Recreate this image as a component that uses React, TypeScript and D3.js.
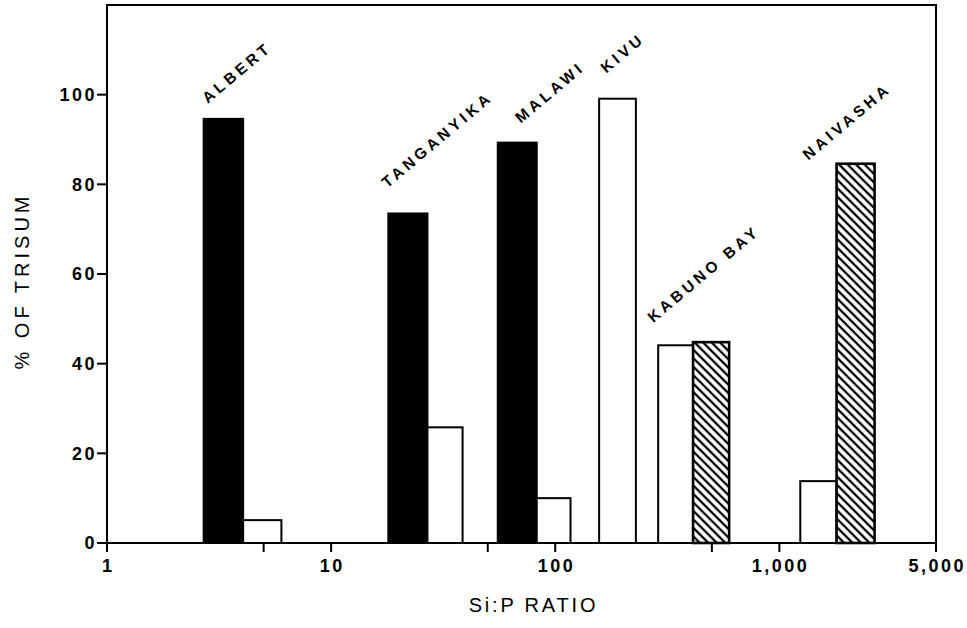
import * as d3 from "d3";

// Si:P ratio bins per lake (histogram-like bars on a log axis)
const barLakes = ["ALBERT", "ALBERT", "TANGANYIKA", "TANGANYIKA", "MALAWI", "MALAWI", "KIVU", "KABUNO BAY", "KABUNO BAY", "NAIVASHA", "NAIVASHA"];
const barFrom = [2.7, 4.05, 18, 26.9, 55.4, 82.7, 157, 288, 412, 1240, 1800];
const barTo = [4.05, 6.0, 26.9, 38.6, 82.7, 117, 229, 412, 597, 1800, 2660];
const barValues = [94.6, 5.1, 73.5, 25.8, 89.3, 10.0, 99.1, 44.1, 44.8, 13.8, 84.6];
const barKinds = ["solid", "open", "solid", "open", "solid", "open", "open", "open", "hatched", "open", "hatched"];

const lakes = ["ALBERT", "TANGANYIKA", "MALAWI", "KIVU", "KABUNO BAY", "NAIVASHA"];

const xTicks = [1, 5, 10, 50, 100, 500, 1000, 5000];
const xTickLabels = ["1", "", "10", "", "100", "", "1,000", "5,000"];
const yTicks = [0, 20, 40, 60, 80, 100];

// layout only: pixel nudges for the rotated lake labels
const labelNudge: Record<string, [number, number]> = {
    "ALBERT": [4, -15],
    "TANGANYIKA": [-1, -25],
    "MALAWI": [23, -19],
    "KIVU": [7, -25],
    "KABUNO BAY": [-5, -19],
    "NAIVASHA": [8, -3],
};

const WIDTH = 967;
const HEIGHT = 628;
const LEFT = 107;
const RIGHT = 936;
const TOP = 5;
const BOTTOM = 543;
const FONT = "'Liberation Sans', Arial, Helvetica, sans-serif";

export default function App() {
    const x = d3.scaleLog().domain([1, 5000]).range([LEFT, RIGHT]);
    const y = d3.scaleLinear().domain([0, 120]).range([BOTTOM, TOP]);

    const bars = barValues.map((v, i) => ({
        lake: barLakes[i],
        x0: x(barFrom[i]),
        x1: x(barTo[i]),
        y: y(v),
        kind: barKinds[i],
    }));

    const labels = lakes.map((lake) => {
        const own = bars.filter((b) => b.lake === lake);
        const left = d3.min(own, (b) => b.x0)!;
        const top = d3.min(own, (b) => b.y)!;
        const [dx, dy] = labelNudge[lake];
        return { lake, x: left + dx, y: top + dy };
    });

    return (
        <svg width={WIDTH} height={HEIGHT} style={{ position: "absolute", left: 0, top: 0, background: "#fff" }}>
            <defs>
                <pattern id="hatch" patternUnits="userSpaceOnUse" width={6} height={6} patternTransform="rotate(-45)">
                    <rect width={6} height={6} fill="#fff" />
                    <line x1={3} y1={0} x2={3} y2={6} stroke="#000" strokeWidth={2.3} />
                </pattern>
            </defs>

            {bars.map((b, i) => (
                <rect
                    key={i}
                    x={b.x0}
                    y={b.y}
                    width={b.x1 - b.x0}
                    height={BOTTOM - b.y}
                    fill={b.kind === "solid" ? "#000" : b.kind === "hatched" ? "url(#hatch)" : "#fff"}
                    stroke="#000"
                    strokeWidth={b.kind === "hatched" ? 2.6 : 2}
                />
            ))}

            {/* frame */}
            <rect x={LEFT} y={TOP} width={RIGHT - LEFT} height={BOTTOM - TOP} fill="none" stroke="#000" strokeWidth={2} />

            {/* y axis */}
            {yTicks.map((t) => (
                <g key={t}>
                    <line x1={LEFT - 10} x2={LEFT} y1={y(t)} y2={y(t)} stroke="#000" strokeWidth={2} />
                    <text
                        x={LEFT - 10}
                        y={y(t)}
                        dy="0.36em"
                        textAnchor="end"
                        fontFamily={FONT}
                        fontWeight="bold"
                        fontSize={18}
                        letterSpacing={2.5}
                    >
                        {t}
                    </text>
                </g>
            ))}

            {/* x axis */}
            {xTicks.map((t, i) => (
                <g key={t}>
                    <line x1={x(t)} x2={x(t)} y1={BOTTOM} y2={BOTTOM + 9} stroke="#000" strokeWidth={2} />
                    {xTickLabels[i] && (
                        <text
                            x={x(t) + 1.2}
                            y={572}
                            textAnchor="middle"
                            fontFamily={FONT}
                            fontWeight="bold"
                            fontSize={18}
                            letterSpacing={2.5}
                        >
                            {xTickLabels[i]}
                        </text>
                    )}
                </g>
            ))}

            {/* lake labels */}
            {labels.map((l) => (
                <text
                    key={l.lake}
                    transform={`translate(${l.x},${l.y}) rotate(-40)`}
                    fontFamily={FONT}
                    fontWeight="bold"
                    fontSize={15.5}
                    letterSpacing={3.7}
                >
                    {l.lake}
                </text>
            ))}

            {/* axis titles */}
            <text
                x={(LEFT + RIGHT) / 2 + 12}
                y={612}
                textAnchor="middle"
                fontFamily={FONT}
                fontSize={20}
                letterSpacing={2.8}
            >
                Si:P RATIO
            </text>
            <text
                transform={`translate(29,${281}) rotate(-90)`}
                textAnchor="middle"
                fontFamily={FONT}
                fontSize={20}
                letterSpacing={4}
            >
                % OF TRISUM
            </text>
        </svg>
    );
}
